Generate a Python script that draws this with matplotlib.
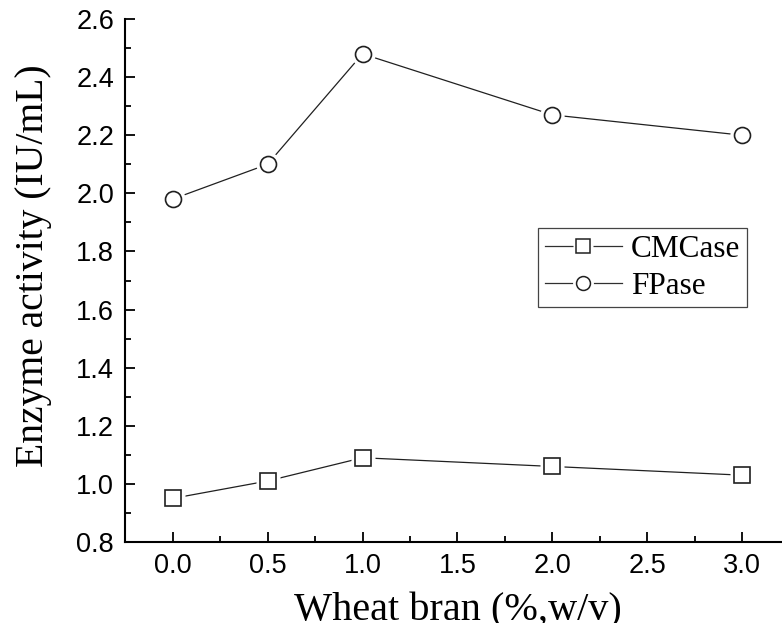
import numpy as np
import matplotlib.pyplot as plt
from matplotlib.ticker import MultipleLocator, FormatStrFormatter
from matplotlib.lines import Line2D
from matplotlib.legend_handler import HandlerTuple

# Données
wheat_bran = [0.0, 0.5, 1.0, 2.0, 3.0]
cmcase = [0.95, 1.01, 1.09, 1.06, 1.03]
fpase = [1.98, 2.10, 2.48, 2.27, 2.20]

serif = ["Liberation Serif", "DejaVu Serif"]
sans = ["Liberation Sans", "DejaVu Sans"]

fig = plt.figure(figsize=(7.82, 6.23), dpi=100)
ax = fig.add_axes([0.160, 0.130, 0.850, 0.8395])

ms = 11.5
for y, mk in [(cmcase, "s"), (fpase, "o")]:
    ax.plot(wheat_bran, y, color="#202020", lw=0.9, zorder=1)
    # halo blanc pour couper la ligne autour du marqueur
    ax.plot(wheat_bran, y, ls="none", marker=mk, ms=ms + 6, mfc="white",
            mec="none", zorder=2)
    ax.plot(wheat_bran, y, ls="none", marker=mk, ms=ms, mfc="white",
            mec="#202020", mew=1.2, zorder=3)

ax.set_xlim(-0.25, 3.25)
ax.set_ylim(0.8, 2.6)
ax.xaxis.set_major_locator(MultipleLocator(0.5))
ax.xaxis.set_minor_locator(MultipleLocator(0.25))
ax.yaxis.set_major_locator(MultipleLocator(0.2))
ax.yaxis.set_minor_locator(MultipleLocator(0.1))
ax.xaxis.set_major_formatter(FormatStrFormatter("%.1f"))
ax.yaxis.set_major_formatter(FormatStrFormatter("%.1f"))

for s in ["top", "right"]:
    ax.spines[s].set_visible(False)
for s in ["left", "bottom"]:
    ax.spines[s].set_linewidth(1.5)

ax.tick_params(which="major", direction="in", length=7, width=1.3,
               labelsize=19.5, pad=8)
ax.tick_params(which="minor", direction="in", length=4, width=1.3)
for lab in ax.get_xticklabels() + ax.get_yticklabels():
    lab.set_family(sans)

ax.set_xlabel("Wheat bran (%,w/v)", fontsize=29, family=serif)
ax.set_ylabel("Enzyme activity (IU/mL)", fontsize=28.5, family=serif)
ax.xaxis.set_label_coords(0.50, -0.097)
ax.yaxis.set_label_coords(-0.110, 0.528)

# Légende (ligne + halo blanc + marqueur superposés)
handles = []
for mk, size in [("s", 9.5), ("o", 10)]:
    ln = Line2D([], [], color="#303030", lw=0.9)
    halo = Line2D([], [], ls="none", marker=mk, ms=size + 5, mfc="white",
                  mec="none")
    pt = Line2D([], [], ls="none", marker=mk, ms=size, mfc="white",
                mec="#202020", mew=1.1)
    handles.append((ln, halo, pt))
leg = ax.legend(handles, ["CMCase", "FPase"], loc="upper left",
                bbox_to_anchor=(0.6215, 0.600), fancybox=False, frameon=True,
                edgecolor="#444444", framealpha=1, borderpad=0.22,
                handlelength=2.45, handletextpad=0.3, labelspacing=0.24,
                borderaxespad=0, prop={"family": serif, "size": 22.5},
                handler_map={tuple: HandlerTuple(ndivide=1, pad=0)})
leg.get_frame().set_linewidth(0.9)

fig.savefig("out.png", dpi=100)
